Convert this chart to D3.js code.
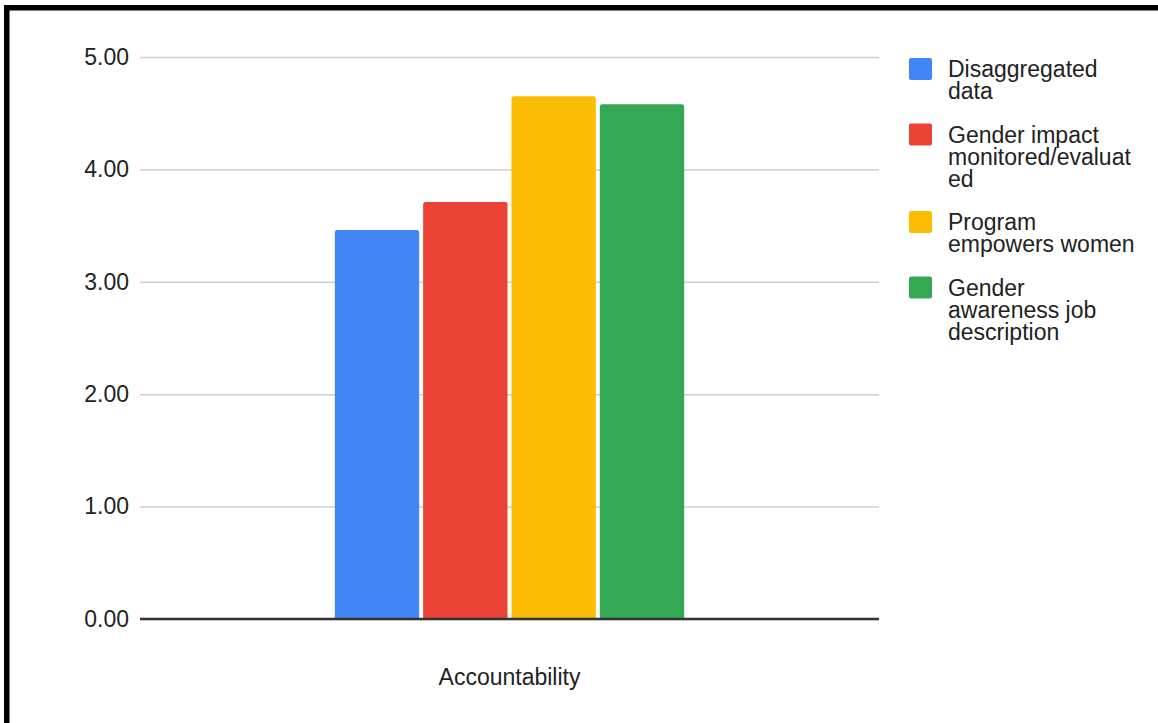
<!DOCTYPE html>
<html>
<head>
<meta charset="utf-8">
<script src="https://cdn.jsdelivr.net/npm/d3@7"></script>
<style>
  html, body { margin: 0; padding: 0; background: #fff; }
  svg { display: block; font-family: "Liberation Sans", Arial, sans-serif; }
</style>
</head>
<body>
<svg id="chart" width="1158" height="723"></svg>
<script>
// Chart data
const categories = ["Accountability"];
const seriesNames = [
  ["Disaggregated", "data"],
  ["Gender impact", "monitored/evaluat", "ed"],
  ["Program", "empowers women"],
  ["Gender", "awareness job", "description"]
];
const seriesKeys = ["Disaggregated data", "Gender impact monitored/evaluated", "Program empowers women", "Gender awareness job description"];
const seriesValues = [3.46, 3.71, 4.65, 4.58];
const seriesColors = ["#4285F4", "#EA4335", "#FBBC04", "#34A853"];
const yTicks = [0, 1, 2, 3, 4, 5];
const yTickLabels = ["0.00", "1.00", "2.00", "3.00", "4.00", "5.00"];

const svg = d3.select("#chart");
const W = 1158, H = 723;
const FONT = 23;

// Frame (top and left edges)
svg.append("rect").attr("x", 4).attr("y", 5).attr("width", W - 4).attr("height", 5.5).attr("fill", "#000");
svg.append("rect").attr("x", 4).attr("y", 5).attr("width", 5.5).attr("height", H - 5).attr("fill", "#000");

const plot = { left: 140, right: 879, top: 57, bottom: 619 };

const y = d3.scaleLinear().domain([0, 5]).range([plot.bottom, plot.top]);
const x0 = d3.scaleBand().domain(categories).range([plot.left, plot.right]).paddingInner(0.358).paddingOuter(0.358);
const x1 = d3.scaleBand().domain(seriesKeys).range([0, x0.bandwidth()]).paddingInner(0.045).paddingOuter(0);

// Gridlines and value labels
const yAxis = d3.axisLeft(y).tickValues(yTicks).tickSize(-(plot.right - plot.left)).tickPadding(11)
  .tickFormat((d, i) => yTickLabels[i]);
const gy = svg.append("g").attr("transform", `translate(${plot.left},0)`).call(yAxis);
gy.select(".domain").remove();
gy.selectAll(".tick line").attr("stroke", "#cfcfcf").attr("stroke-width", 1.5);
gy.selectAll(".tick text")
  .attr("font-size", FONT).attr("fill", "#222").attr("font-family", "'Liberation Sans', Arial, sans-serif");

// Bars with slightly rounded top corners
function barPath(bx, by, bw, bh, r) {
  return `M${bx},${by + bh}V${by + r}Q${bx},${by} ${bx + r},${by}H${bx + bw - r}Q${bx + bw},${by} ${bx + bw},${by + r}V${by + bh}Z`;
}
const groups = svg.append("g").selectAll("g").data(categories).join("g")
  .attr("transform", d => `translate(${x0(d)},0)`);
groups.selectAll("path")
  .data(() => seriesKeys.map((k, i) => ({ key: k, value: seriesValues[i], color: seriesColors[i] })))
  .join("path")
  .attr("d", d => barPath(x1(d.key), y(d.value), x1.bandwidth(), y(0) - y(d.value), 2.5))
  .attr("fill", d => d.color);

// Baseline
svg.append("line")
  .attr("x1", plot.left).attr("x2", plot.right)
  .attr("y1", y(0)).attr("y2", y(0))
  .attr("stroke", "#333").attr("stroke-width", 2.5);

// Category axis labels
const xAxis = d3.axisBottom(x0).tickSize(0).tickPadding(0);
const gx = svg.append("g").attr("transform", `translate(0,${y(0)})`).call(xAxis);
gx.select(".domain").remove();
gx.selectAll(".tick text")
  .attr("y", 66).attr("dy", 0)
  .attr("font-size", FONT).attr("fill", "#222").attr("font-family", "'Liberation Sans', Arial, sans-serif");

// Legend
const legend = svg.append("g");
const lineH = 22, itemGap = 21.5;
let itemTop = 58;
seriesNames.forEach((lines, i) => {
  const g = legend.append("g");
  g.append("rect").attr("x", 909).attr("y", itemTop).attr("width", 23).attr("height", 22)
    .attr("rx", 2).attr("fill", seriesColors[i]);
  const t = g.append("text").attr("x", 948).attr("y", itemTop + 19)
    .attr("font-size", FONT).attr("fill", "#222");
  lines.forEach((ln, j) => {
    t.append("tspan").attr("x", 948).attr("y", itemTop + 19 + j * lineH).text(ln);
  });
  itemTop += lines.length * lineH + itemGap;
});
</script>
</body>
</html>
